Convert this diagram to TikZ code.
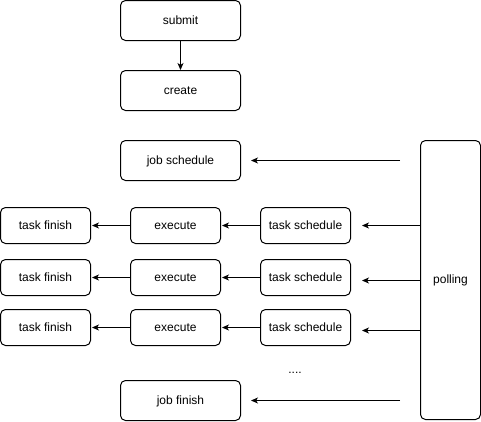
\documentclass[tikz,border=0pt]{standalone}
\usepackage{fontspec}
\setmainfont{Liberation Sans}
\usetikzlibrary{arrows.meta}
\begin{document}
\begin{tikzpicture}[x=1pt,y=-1pt,
  box/.style={draw, rounded corners=5pt, line width=1pt, inner sep=0pt,
    minimum width=120pt, minimum height=40pt, font=\fontsize{12}{14}\selectfont,
    text height=8pt, text depth=1pt},
  tbox/.style={box, minimum width=90pt, minimum height=36pt},
  arr/.style={line width=1pt, -{Stealth[length=7pt,width=6pt,inset=2pt]}}]
\fill[white] (0,0) rectangle (481,421);
\useasboundingbox (0,0) rectangle (481,421);

\node[box] (submit) at (180.5,20.5) {submit};
\node[box] (create) at (180.5,90.5) {create};
\node[box] (jobsched) at (180.5,160.5) {job schedule};
\node[box] (jobfinish) at (180.5,400.5) {job finish};
\node[box, minimum width=60pt, minimum height=279pt] (polling) at (450.5,280) {polling};

\foreach \i/\y in {1/225.5, 2/277.5, 3/327.5} {
  \node[tbox] (tf\i) at (45.5,\y) {task finish};
  \node[tbox] (ex\i) at (175.5,\y) {execute};
  \node[tbox] (ts\i) at (305.5,\y) {task schedule};
}

\node[font=\fontsize{12}{14}\selectfont] (dots) at (295,373) {....};

\coordinate (jsstart) at (400,160.5);
\coordinate (jfstart) at (400,400.5);

\draw[arr] (submit) -- (create);
\draw[arr, shorten >=10pt] (jsstart) -- (jobsched.east);
\draw[arr, shorten >=10pt] (jfstart) -- (jobfinish.east);
\draw[arr, shorten >=11pt] (polling.west |- 0,225.5) -- (ts1.east);
\draw[arr, shorten >=11pt] (polling.west |- 0,280.5) -- (ts2.east |- 0,280.5);
\draw[arr, shorten >=11pt] (polling.west |- 0,330.5) -- (ts3.east |- 0,330.5);
\foreach \i in {1,2,3} {
  \draw[arr, shorten >=1pt] (ts\i) -- (ex\i);
  \draw[arr, shorten >=1pt] (ex\i) -- (tf\i);
}
\end{tikzpicture}
\end{document}
